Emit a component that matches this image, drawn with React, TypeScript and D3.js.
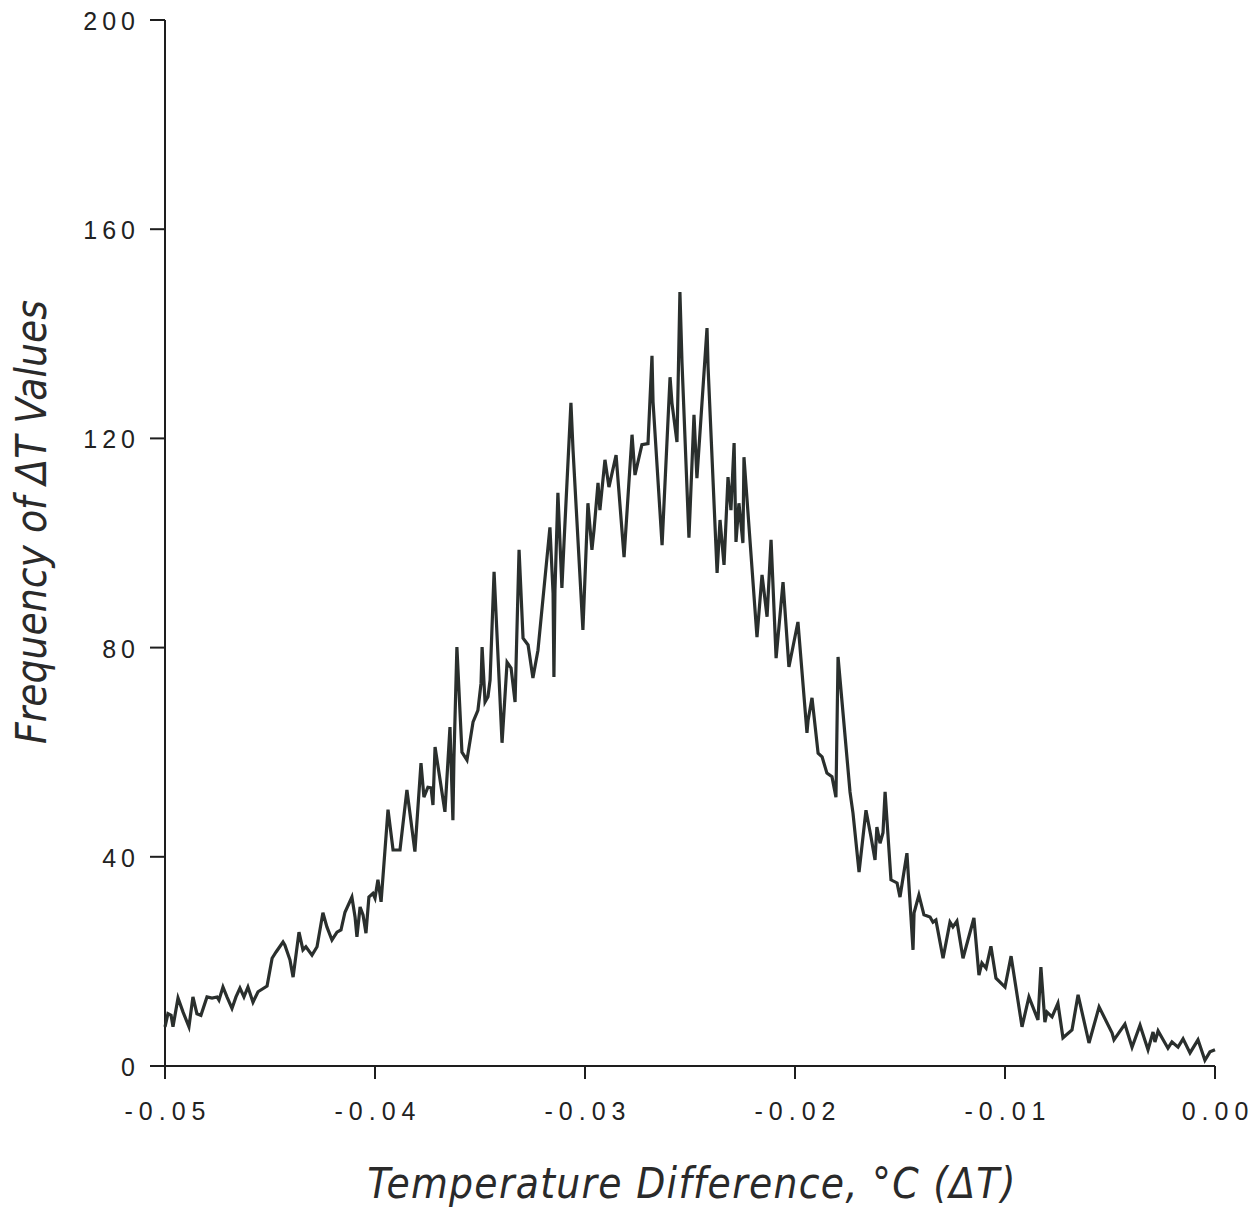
import React from "react";
import * as d3 from "d3";

const deltaT: number[] = [
  -0.05, -0.04986, -0.04971, -0.04962, -0.04938, -0.04914, -0.04886, -0.04867, -0.04848, -0.04829,
  -0.048, -0.04776, -0.04752, -0.04743, -0.04724, -0.04705, -0.04681, -0.04662, -0.04643, -0.04624,
  -0.04605, -0.04581, -0.04557, -0.04514, -0.0449, -0.04471, -0.04438, -0.04429, -0.04405, -0.0439,
  -0.04362, -0.04343, -0.04329, -0.043, -0.04276, -0.04248, -0.04229, -0.04205, -0.04181, -0.04162,
  -0.04143, -0.0411, -0.04095, -0.04086, -0.04071, -0.04057, -0.04043, -0.04029, -0.0401, -0.04,
  -0.03986, -0.03971, -0.03938, -0.03914, -0.03881, -0.03848, -0.0381, -0.03781, -0.03767, -0.03748,
  -0.03733, -0.03724, -0.03714, -0.03667, -0.03643, -0.03629, -0.03624, -0.0361, -0.03586, -0.03562,
  -0.03533, -0.0351, -0.03495, -0.0349, -0.03476, -0.03462, -0.03452, -0.03433, -0.03395, -0.03371,
  -0.03352, -0.03333, -0.03314, -0.03295, -0.03271, -0.03248, -0.03224, -0.03167, -0.03152, -0.03148,
  -0.03143, -0.03129, -0.0311, -0.031, -0.03067, -0.03057, -0.0301, -0.02986, -0.02967, -0.02957,
  -0.02938, -0.02929, -0.02905, -0.02886, -0.02852, -0.02814, -0.02776, -0.02762, -0.02729, -0.027,
  -0.02681, -0.02676, -0.02633, -0.02595, -0.02586, -0.02562, -0.02548, -0.02538, -0.02505, -0.02481,
  -0.02467, -0.02419, -0.02414, -0.02371, -0.02357, -0.02338, -0.02319, -0.02305, -0.0229, -0.02281,
  -0.02267, -0.02248, -0.02243, -0.02181, -0.02157, -0.02133, -0.02114, -0.0209, -0.02057, -0.02029,
  -0.01986, -0.01943, -0.01938, -0.01919, -0.0189, -0.01871, -0.01848, -0.01824, -0.01805, -0.01795,
  -0.01738, -0.01724, -0.01695, -0.01662, -0.01638, -0.01619, -0.0161, -0.01595, -0.01581, -0.01571,
  -0.01543, -0.01514, -0.015, -0.01467, -0.01438, -0.01433, -0.0141, -0.01386, -0.01357, -0.01343,
  -0.01329, -0.01295, -0.01262, -0.01248, -0.01229, -0.012, -0.01148, -0.01124, -0.0111, -0.0109,
  -0.01067, -0.01043, -0.01, -0.00971, -0.00919, -0.00886, -0.00843, -0.00829, -0.0081, -0.008,
  -0.00776, -0.00748, -0.00724, -0.00681, -0.00652, -0.006, -0.00552, -0.0049, -0.00481, -0.00429,
  -0.00395, -0.00357, -0.00319, -0.00295, -0.00286, -0.00271, -0.00224, -0.00205, -0.00176, -0.00152,
  -0.00119, -0.00081, -0.00048, -0.00024, 0,
];

const frequency: number[] = [
  7.5, 10, 9.7, 7.5, 13, 10.3, 7.5, 13.2, 10, 9.7,
  13.2, 13, 13.2, 12.6, 15.1, 13.2, 11, 13.2, 14.9, 13.2,
  15.1, 12.2, 14.2, 15.3, 20.6, 21.8, 23.7, 23.1, 20.3, 17,
  25.6, 22.2, 22.8, 21.2, 22.8, 29.3, 26.6, 24.1, 25.6, 26,
  29.4, 32.3, 28.5, 24.7, 30.4, 28.9, 25.4, 32.3, 33, 32.1,
  35.6, 31.4, 49, 41.3, 41.3, 52.8, 41, 57.9, 51.4, 53.3,
  53.2, 49.9, 61, 48.6, 64.8, 47, 59, 80.1, 60, 58.5,
  65.8, 68, 73.2, 80.1, 69.6, 70.6, 73.8, 94.5, 61.8, 77.2,
  76.1, 69.6, 98.7, 81.8, 80.5, 74.2, 79.5, 103, 90.4, 74.4,
  91, 109.6, 91.4, 100, 126.8, 117.8, 83.4, 107.6, 98.7, 102.5,
  111.5, 106.3, 115.9, 110.7, 116.8, 97.3, 120.7, 113, 118.8, 119,
  135.8, 127, 99.6, 131.7, 126.8, 119.3, 148, 134.4, 101, 124.5,
  112.4, 141.1, 133.7, 94.3, 104.4, 95.8, 112.6, 106.3, 119.1, 100.2,
  107.6, 100, 116.4, 82, 93.9, 85.9, 100.6, 78, 92.5, 76.3,
  84.9, 63.7, 66, 70.4, 59.8, 59.1, 56, 55.3, 51.4, 78.2,
  52.4, 48.4, 37.1, 48.9, 43.8, 39.4, 45.7, 42.6, 44.6, 52.4,
  35.6, 35, 32.3, 40.7, 22.2, 29.3, 32.7, 28.9, 28.5, 27.5,
  27.9, 20.6, 27.5, 26.6, 27.7, 20.6, 28.3, 17.4, 19.7, 18.7,
  22.9, 16.8, 15.1, 21, 7.5, 13.2, 8.8, 18.9, 8.4, 10.3,
  9.4, 12, 5.4, 6.9, 13.6, 4.4, 11.3, 6.3, 5, 8,
  3.6, 7.8, 3.1, 6.5, 4.6, 6.7, 3.4, 4.6, 3.6, 5.2,
  2.5, 5, 1.1, 2.7, 3.1,
];

const xTicks: number[] = [-0.05, -0.04, -0.03, -0.02, -0.01, 0.0];
const yTicks: number[] = [0, 40, 80, 120, 160, 200];
const xTitle = "Temperature Difference, °C (ΔT)";
const yTitle = "Frequency of ΔT Values";

export default function App() {
  const W = 1260;
  const H = 1211;
  const left = 165;
  const right = 1215;
  const top = 20;
  const bottom = 1066;

  const x = d3.scaleLinear().domain([-0.05, 0]).range([left, right]);
  const y = d3.scaleLinear().domain([0, 200]).range([bottom, top]);

  const points: [number, number][] = deltaT.map((d, i) => [d, frequency[i]]);
  const line = d3
    .line<[number, number]>()
    .x((d) => x(d[0]))
    .y((d) => y(d[1]));

  const tickFont = "'Liberation Sans', Arial, sans-serif";
  const titleFont = "'Liberation Sans Narrow', 'DejaVu Sans Condensed', 'Liberation Sans', sans-serif";
  const axisColor = "#1e1e1e";

  return (
    <svg
      width={W}
      height={H}
      viewBox={`0 0 ${W} ${H}`}
      style={{ position: "absolute", left: 0, top: 0, background: "#ffffff" }}
    >
      <rect x={0} y={0} width={W} height={H} fill="#ffffff" />
      {/* y axis */}
      <line x1={left} x2={left} y1={top} y2={bottom} stroke={axisColor} strokeWidth={2} />
      {yTicks.map((t) => (
        <g key={"y" + t}>
          <line x1={left - 15} x2={left} y1={y(t)} y2={y(t)} stroke={axisColor} strokeWidth={2} />
          <text
            x={left - 25}
            y={y(t) + 10}
            textAnchor="end"
            fontFamily={tickFont}
            fontSize={25}
            letterSpacing={5}
            fill="#222"
          >
            {t}
          </text>
        </g>
      ))}
      {/* x axis */}
      <line x1={left} x2={right} y1={bottom} y2={bottom} stroke={axisColor} strokeWidth={2} />
      {xTicks.map((t) => (
        <g key={"x" + t}>
          <line x1={x(t)} x2={x(t)} y1={bottom} y2={bottom + 13} stroke={axisColor} strokeWidth={2} />
          <text
            x={x(t) + 3}
            y={bottom + 54}
            textAnchor="middle"
            fontFamily={tickFont}
            fontSize={25}
            letterSpacing={6}
            fill="#222"
          >
            {t.toFixed(2)}
          </text>
        </g>
      ))}
      {/* data line */}
      <path
        d={line(points) || ""}
        fill="none"
        stroke="#2a2f2d"
        strokeWidth={3.2}
        strokeLinejoin="miter"
        strokeMiterlimit={4}
      />
      {/* titles */}
      <text
        x={692}
        y={1198}
        textAnchor="middle"
        fontFamily={titleFont}
        fontStyle="italic"
        fontSize={42}
        letterSpacing={1.3}
        fill="#2a2a2a"
      >
        {xTitle}
      </text>
      <text
        transform={`translate(46, 522) rotate(-90)`}
        textAnchor="middle"
        fontFamily={titleFont}
        fontStyle="italic"
        fontSize={42}
        letterSpacing={0}
        fill="#2a2a2a"
      >
        {yTitle}
      </text>
    </svg>
  );
}
